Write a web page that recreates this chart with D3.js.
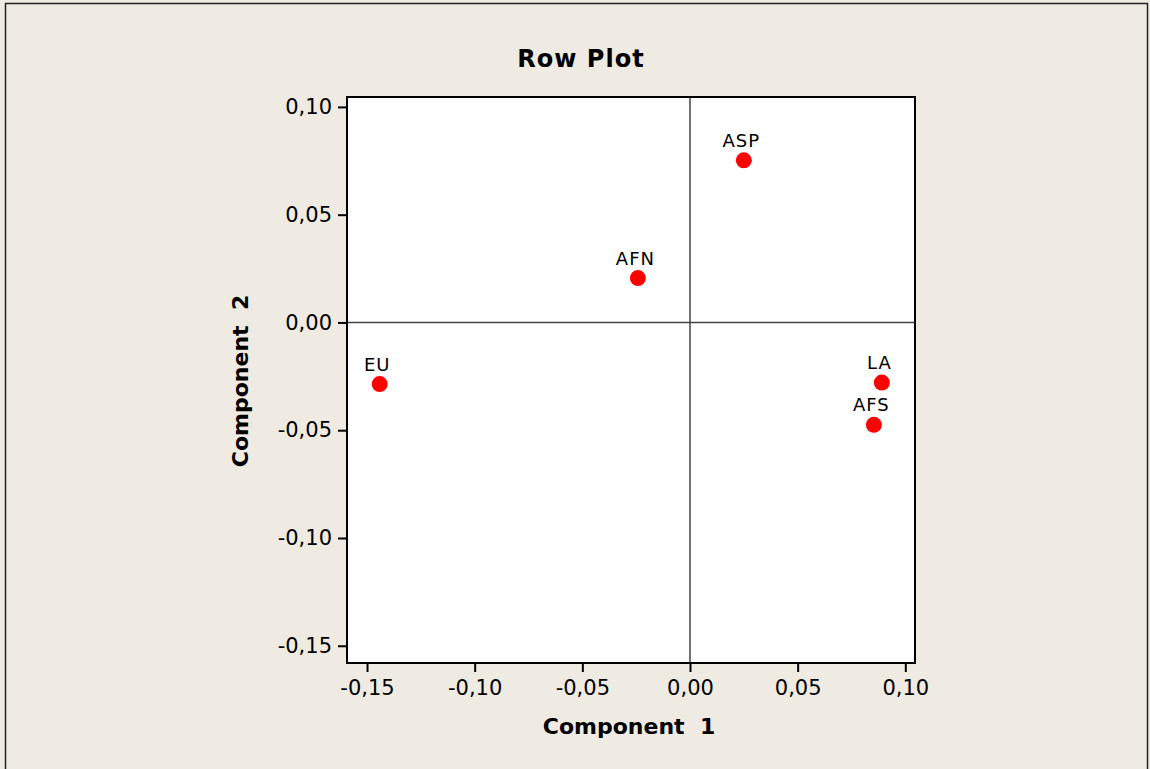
<!DOCTYPE html>
<html>
<head>
  <title>Row Plot</title>
  <script src="https://d3js.org/d3.v7.min.js"></script>
  <style>
    body { margin: 0; background: #efebe2; }
    text { font-family: "DejaVu Sans", sans-serif; fill: #000; }
  </style>
</head>
<body>
  <svg id="chart"></svg>

  <script>
    // row points (correspondence analysis)
    var rowNames = ['EU', 'AFN', 'ASP', 'LA', 'AFS'];
    var component1 = [-0.1441, -0.0242, 0.0250, 0.0891, 0.0854];
    var component2 = [-0.0286, 0.0206, 0.0752, -0.0279, -0.0475];

    var tickValues = [-0.15, -0.10, -0.05, 0.00, 0.05, 0.10];
    var tickLabels = ['-0,15', '-0,10', '-0,05', '0,00', '0,05', '0,10'];

    var svgWidth = 1150;
    var svgHeight = 769;
    var plot = { left: 347, top: 97, width: 568, height: 566 };

    var svg = d3.select('#chart')
      .attr('width', svgWidth)
      .attr('height', svgHeight);

    svg.append('rect')
      .attr('x', 0).attr('y', 0)
      .attr('width', svgWidth).attr('height', svgHeight)
      .attr('fill', '#efebe2');

    // outer frame
    svg.append('rect')
      .attr('x', 5.5).attr('y', 3.5)
      .attr('width', 1142).attr('height', 800)
      .attr('fill', 'none')
      .attr('stroke', '#222')
      .attr('stroke-width', 1.5);

    var x = d3.scaleLinear()
      .domain([-0.1593, 0.1045])
      .range([0, plot.width]);

    var y = d3.scaleLinear()
      .domain([-0.158, 0.1046])
      .range([plot.height, 0]);

    var g = svg.append('g')
      .attr('transform', 'translate(' + plot.left + ',' + plot.top + ')');

    g.append('rect')
      .attr('width', plot.width)
      .attr('height', plot.height)
      .attr('fill', '#fff');

    // reference lines at zero
    g.append('line')
      .attr('x1', x(0)).attr('x2', x(0))
      .attr('y1', 0).attr('y2', plot.height)
      .attr('stroke', '#444').attr('stroke-width', 1.5);
    g.append('line')
      .attr('x1', 0).attr('x2', plot.width)
      .attr('y1', y(0)).attr('y2', y(0))
      .attr('stroke', '#444').attr('stroke-width', 1.5);

    var fmt = function(d) { return tickLabels[tickValues.indexOf(d)]; };

    var xAxis = g.append('g')
      .attr('transform', 'translate(0,' + plot.height + ')')
      .call(d3.axisBottom(x).tickValues(tickValues).tickFormat(fmt).tickSize(9).tickPadding(8));

    var yAxis = g.append('g')
      .call(d3.axisLeft(y).tickValues(tickValues).tickFormat(fmt).tickSize(9).tickPadding(6));

    [xAxis, yAxis].forEach(function(a) {
      a.select('.domain').remove();
      a.selectAll('.tick line').attr('stroke', '#000').attr('stroke-width', 2);
      a.selectAll('.tick text')
        .style('font-family', '"DejaVu Sans", sans-serif')
        .style('font-size', '21px')
        .attr('fill', '#000');
    });

    g.append('rect')
      .attr('width', plot.width)
      .attr('height', plot.height)
      .attr('fill', 'none')
      .attr('stroke', '#000')
      .attr('stroke-width', 2);

    var points = rowNames.map(function(n, i) {
      return { name: n, c1: component1[i], c2: component2[i] };
    });

    g.selectAll('.pt')
      .data(points)
      .enter().append('circle')
      .attr('class', 'pt')
      .attr('cx', function(d) { return x(d.c1); })
      .attr('cy', function(d) { return y(d.c2); })
      .attr('r', 8)
      .attr('fill', '#ff0000');

    g.selectAll('.lbl')
      .data(points)
      .enter().append('text')
      .attr('class', 'lbl')
      .attr('x', function(d) { return x(d.c1) - 2.5; })
      .attr('y', function(d) { return y(d.c2) - 13.5; })
      .attr('text-anchor', 'middle')
      .style('font-size', '18px')
      .style('letter-spacing', '1px')
      .text(function(d) { return d.name; });

    // titles
    svg.append('text')
      .attr('x', 581).attr('y', 67)
      .attr('text-anchor', 'middle')
      .style('font-size', '24px')
      .style('font-weight', 'bold')
      .style('letter-spacing', '1px')
      .text('Row Plot');

    svg.append('text')
      .attr('x', plot.left + plot.width / 2 - 2).attr('y', 734)
      .attr('text-anchor', 'middle')
      .style('font-size', '22px')
      .style('font-weight', 'bold')
      .attr('xml:space', 'preserve')
      .text('Component  1');

    svg.append('text')
      .attr('transform', 'translate(248,' + (plot.top + plot.height / 2 + 1) + ') rotate(-90)')
      .attr('text-anchor', 'middle')
      .style('font-size', '22px')
      .style('font-weight', 'bold')
      .attr('xml:space', 'preserve')
      .text('Component  2');
  </script>
</body>
</html>
